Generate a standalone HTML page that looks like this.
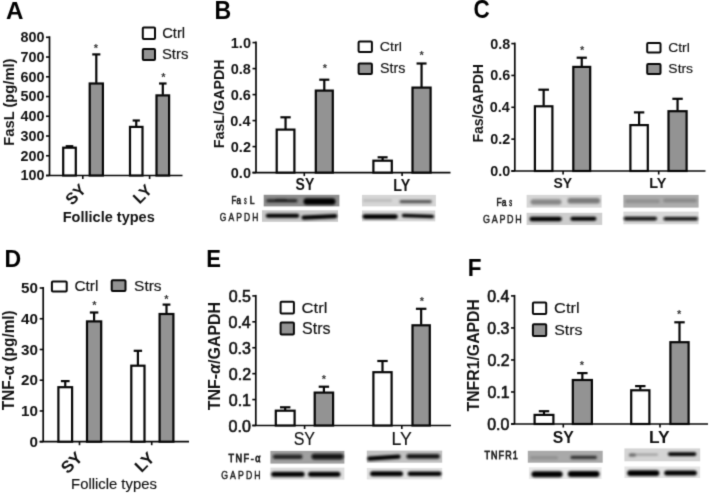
<!DOCTYPE html><html><head><meta charset="utf-8"><style>html,body{margin:0;padding:0;background:#fff;}svg{display:block;}text{font-family:'Liberation Sans', sans-serif;}</style></head><body>
<svg width="711" height="495" viewBox="0 0 711 495">
<defs><filter id="bl1" x="-5%" y="-20%" width="110%" height="140%"><feGaussianBlur stdDeviation="0.5"/></filter><filter id="bl2" x="-20%" y="-100%" width="140%" height="300%"><feGaussianBlur stdDeviation="1.1"/></filter><filter id="glob" x="0" y="0" width="711" height="495" filterUnits="userSpaceOnUse" color-interpolation-filters="sRGB"><feConvolveMatrix order="3" kernelMatrix="0.019 0.1 0.019 0.1 0.524 0.1 0.019 0.1 0.019" divisor="1" edgeMode="duplicate"/></filter><filter id="bl3" x="-20%" y="-100%" width="140%" height="300%"><feGaussianBlur stdDeviation="0.8"/></filter></defs>
<g filter="url(#glob)">
<rect width="711" height="495" fill="#fff"/>
<text x="5.90" y="18.50" font-size="24.78" font-weight="bold" fill="#000" textLength="17.46" lengthAdjust="spacingAndGlyphs">A</text>
<line x1="49.5" y1="36.3" x2="49.5" y2="175.5" stroke="#060606" stroke-width="1.7"/>
<line x1="46.0" y1="175.5" x2="182.5" y2="175.5" stroke="#060606" stroke-width="1.7"/>
<line x1="46.0" y1="175.50" x2="49.5" y2="175.50" stroke="#060606" stroke-width="1.6"/>
<text x="44.43" y="180.46" font-size="14.37" font-weight="bold" text-anchor="end" fill="#111">100</text>
<line x1="46.0" y1="155.76" x2="49.5" y2="155.76" stroke="#060606" stroke-width="1.6"/>
<text x="44.43" y="160.71" font-size="14.37" font-weight="bold" text-anchor="end" fill="#111">200</text>
<line x1="46.0" y1="136.01" x2="49.5" y2="136.01" stroke="#060606" stroke-width="1.6"/>
<text x="44.43" y="140.97" font-size="14.37" font-weight="bold" text-anchor="end" fill="#111">300</text>
<line x1="46.0" y1="116.27" x2="49.5" y2="116.27" stroke="#060606" stroke-width="1.6"/>
<text x="44.43" y="121.23" font-size="14.37" font-weight="bold" text-anchor="end" fill="#111">400</text>
<line x1="46.0" y1="96.53" x2="49.5" y2="96.53" stroke="#060606" stroke-width="1.6"/>
<text x="44.43" y="101.48" font-size="14.37" font-weight="bold" text-anchor="end" fill="#111">500</text>
<line x1="46.0" y1="76.79" x2="49.5" y2="76.79" stroke="#060606" stroke-width="1.6"/>
<text x="44.43" y="81.74" font-size="14.37" font-weight="bold" text-anchor="end" fill="#111">600</text>
<line x1="46.0" y1="57.04" x2="49.5" y2="57.04" stroke="#060606" stroke-width="1.6"/>
<text x="44.43" y="62.00" font-size="14.37" font-weight="bold" text-anchor="end" fill="#111">700</text>
<line x1="46.0" y1="37.30" x2="49.5" y2="37.30" stroke="#060606" stroke-width="1.6"/>
<text x="44.43" y="42.26" font-size="14.37" font-weight="bold" text-anchor="end" fill="#111">800</text>
<line x1="82.8" y1="175.5" x2="82.8" y2="179.0" stroke="#060606" stroke-width="1.6"/>
<line x1="149.6" y1="175.5" x2="149.6" y2="179.0" stroke="#060606" stroke-width="1.6"/>
<rect x="63.20" y="147.70" width="12.60" height="27.80" fill="#fff" stroke="#060606" stroke-width="2.2"/>
<line x1="69.50" y1="147.10" x2="69.50" y2="146.20" stroke="#060606" stroke-width="2.2"/>
<line x1="65.70" y1="146.20" x2="73.30" y2="146.20" stroke="#060606" stroke-width="2.2"/>
<rect x="89.70" y="83.50" width="13.20" height="92.00" fill="#939393" stroke="#060606" stroke-width="2.2"/>
<line x1="96.30" y1="82.90" x2="96.30" y2="54.40" stroke="#060606" stroke-width="2.2"/>
<line x1="92.25" y1="54.40" x2="100.35" y2="54.40" stroke="#060606" stroke-width="2.2"/>
<rect x="130.00" y="126.90" width="12.50" height="48.60" fill="#fff" stroke="#060606" stroke-width="2.2"/>
<line x1="136.25" y1="126.30" x2="136.25" y2="120.50" stroke="#060606" stroke-width="2.2"/>
<line x1="132.65" y1="120.50" x2="139.85" y2="120.50" stroke="#060606" stroke-width="2.2"/>
<rect x="156.50" y="95.40" width="12.60" height="80.10" fill="#939393" stroke="#060606" stroke-width="2.2"/>
<line x1="162.80" y1="94.80" x2="162.80" y2="83.50" stroke="#060606" stroke-width="2.2"/>
<line x1="159.05" y1="83.50" x2="166.55" y2="83.50" stroke="#060606" stroke-width="2.2"/>
<text x="96.00" y="52.45" font-size="11" font-weight="bold" text-anchor="middle" fill="#333">*</text>
<text x="163.30" y="81.06" font-size="11" font-weight="bold" text-anchor="middle" fill="#333">*</text>
<rect x="142.80" y="27.40" width="12.20" height="11.50" rx="1" fill="#fff" stroke="#060606" stroke-width="2"/>
<text x="162.16" y="37.56" font-size="13.88" font-weight="normal" fill="#111" stroke="#111" stroke-width="0.15" textLength="22.90" lengthAdjust="spacingAndGlyphs">Ctrl</text>
<rect x="142.80" y="49.00" width="12.20" height="11.10" rx="1" fill="#939393" stroke="#060606" stroke-width="2"/>
<text x="161.93" y="59.25" font-size="14.51" font-weight="normal" fill="#111" stroke="#111" stroke-width="0.15" textLength="26.46" lengthAdjust="spacingAndGlyphs">Strs</text>
<text x="0" y="0" font-size="16.20" font-weight="bold" fill="#111" text-anchor="middle" transform="translate(75.60 194.30) rotate(-45) translate(0 5.67)">SY</text>
<text x="0" y="0" font-size="16.20" font-weight="bold" fill="#111" text-anchor="middle" transform="translate(142.30 194.00) rotate(-45) translate(0 5.67)">LY</text>
<text x="62.76" y="221.94" font-size="14.12" font-weight="bold" fill="#111" textLength="92.03" lengthAdjust="spacingAndGlyphs">Follicle types</text>
<text x="0" y="0" font-size="14.49" font-weight="bold" fill="#111" textLength="87.14" lengthAdjust="spacingAndGlyphs" transform="translate(13.70 145.66) rotate(-90)">FasL (pg/ml)</text>
<text x="214.50" y="18.50" font-size="25.07" font-weight="bold" fill="#000" textLength="16.69" lengthAdjust="spacingAndGlyphs">B</text>
<line x1="256.0" y1="41.6" x2="256.0" y2="172.6" stroke="#060606" stroke-width="1.7"/>
<line x1="252.5" y1="172.6" x2="450.5" y2="172.6" stroke="#060606" stroke-width="1.7"/>
<line x1="252.5" y1="172.60" x2="256.0" y2="172.60" stroke="#060606" stroke-width="1.6"/>
<text x="250.98" y="177.60" font-size="14.51" font-weight="bold" text-anchor="end" fill="#111">0.0</text>
<line x1="252.5" y1="146.60" x2="256.0" y2="146.60" stroke="#060606" stroke-width="1.6"/>
<text x="250.98" y="151.60" font-size="14.51" font-weight="bold" text-anchor="end" fill="#111">0.2</text>
<line x1="252.5" y1="120.60" x2="256.0" y2="120.60" stroke="#060606" stroke-width="1.6"/>
<text x="250.47" y="125.60" font-size="14.51" font-weight="bold" text-anchor="end" fill="#111">0.4</text>
<line x1="252.5" y1="94.60" x2="256.0" y2="94.60" stroke="#060606" stroke-width="1.6"/>
<text x="250.91" y="99.60" font-size="14.51" font-weight="bold" text-anchor="end" fill="#111">0.6</text>
<line x1="252.5" y1="68.60" x2="256.0" y2="68.60" stroke="#060606" stroke-width="1.6"/>
<text x="250.84" y="73.60" font-size="14.51" font-weight="bold" text-anchor="end" fill="#111">0.8</text>
<line x1="252.5" y1="42.60" x2="256.0" y2="42.60" stroke="#060606" stroke-width="1.6"/>
<text x="250.98" y="47.60" font-size="14.51" font-weight="bold" text-anchor="end" fill="#111">1.0</text>
<line x1="304.3" y1="172.6" x2="304.3" y2="176.1" stroke="#060606" stroke-width="1.6"/>
<line x1="402.1" y1="172.6" x2="402.1" y2="176.1" stroke="#060606" stroke-width="1.6"/>
<rect x="276.70" y="129.60" width="17.70" height="43.00" fill="#fff" stroke="#060606" stroke-width="2.2"/>
<line x1="285.55" y1="129.00" x2="285.55" y2="117.30" stroke="#060606" stroke-width="2.2"/>
<line x1="280.40" y1="117.30" x2="290.70" y2="117.30" stroke="#060606" stroke-width="2.2"/>
<rect x="315.80" y="90.60" width="17.00" height="82.00" fill="#939393" stroke="#060606" stroke-width="2.2"/>
<line x1="324.30" y1="90.00" x2="324.30" y2="79.70" stroke="#060606" stroke-width="2.2"/>
<line x1="319.25" y1="79.70" x2="329.35" y2="79.70" stroke="#060606" stroke-width="2.2"/>
<rect x="373.40" y="160.70" width="18.40" height="11.90" fill="#fff" stroke="#060606" stroke-width="2.2"/>
<line x1="382.60" y1="160.10" x2="382.60" y2="157.30" stroke="#060606" stroke-width="2.2"/>
<line x1="377.60" y1="157.30" x2="387.60" y2="157.30" stroke="#060606" stroke-width="2.2"/>
<rect x="412.50" y="87.60" width="18.10" height="85.00" fill="#939393" stroke="#060606" stroke-width="2.2"/>
<line x1="421.55" y1="87.00" x2="421.55" y2="63.50" stroke="#060606" stroke-width="2.2"/>
<line x1="416.55" y1="63.50" x2="426.55" y2="63.50" stroke="#060606" stroke-width="2.2"/>
<text x="324.80" y="72.35" font-size="11" font-weight="bold" text-anchor="middle" fill="#333">*</text>
<text x="421.60" y="58.85" font-size="11" font-weight="bold" text-anchor="middle" fill="#333">*</text>
<rect x="358.60" y="41.60" width="13.30" height="10.30" rx="1" fill="#fff" stroke="#060606" stroke-width="2"/>
<text x="379.69" y="51.27" font-size="13.20" font-weight="normal" fill="#111" stroke="#111" stroke-width="0.15" textLength="22.14" lengthAdjust="spacingAndGlyphs">Ctrl</text>
<rect x="358.60" y="63.40" width="13.30" height="10.50" rx="1" fill="#939393" stroke="#060606" stroke-width="2"/>
<text x="380.06" y="72.96" font-size="13.80" font-weight="normal" fill="#111" stroke="#111" stroke-width="0.15" textLength="25.31" lengthAdjust="spacingAndGlyphs">Strs</text>
<text x="295.58" y="190.34" font-size="15.77" font-weight="bold" fill="#111" textLength="18.69" lengthAdjust="spacingAndGlyphs">SY</text>
<text x="393.27" y="190.50" font-size="15.94" font-weight="bold" fill="#111" textLength="16.96" lengthAdjust="spacingAndGlyphs">LY</text>
<text x="0" y="0" font-size="14.64" font-weight="bold" fill="#111" textLength="88.80" lengthAdjust="spacingAndGlyphs" transform="translate(224.20 148.23) rotate(-90)">FasL/GAPDH</text>
<text x="473.40" y="18.45" font-size="25.07" font-weight="bold" fill="#000" textLength="16.21" lengthAdjust="spacingAndGlyphs">C</text>
<line x1="514.8" y1="42.6" x2="514.8" y2="171.0" stroke="#060606" stroke-width="1.7"/>
<line x1="511.29999999999995" y1="171.0" x2="705.5" y2="171.0" stroke="#060606" stroke-width="1.7"/>
<line x1="511.29999999999995" y1="171.00" x2="514.8" y2="171.00" stroke="#060606" stroke-width="1.6"/>
<text x="510.28" y="175.96" font-size="14.37" font-weight="bold" text-anchor="end" fill="#111">0.0</text>
<line x1="511.29999999999995" y1="139.15" x2="514.8" y2="139.15" stroke="#060606" stroke-width="1.6"/>
<text x="510.28" y="144.11" font-size="14.37" font-weight="bold" text-anchor="end" fill="#111">0.2</text>
<line x1="511.29999999999995" y1="107.30" x2="514.8" y2="107.30" stroke="#060606" stroke-width="1.6"/>
<text x="509.77" y="112.26" font-size="14.37" font-weight="bold" text-anchor="end" fill="#111">0.4</text>
<line x1="511.29999999999995" y1="75.45" x2="514.8" y2="75.45" stroke="#060606" stroke-width="1.6"/>
<text x="510.21" y="80.41" font-size="14.37" font-weight="bold" text-anchor="end" fill="#111">0.6</text>
<line x1="511.29999999999995" y1="43.60" x2="514.8" y2="43.60" stroke="#060606" stroke-width="1.6"/>
<text x="510.13" y="48.56" font-size="14.37" font-weight="bold" text-anchor="end" fill="#111">0.8</text>
<line x1="563.1" y1="171.0" x2="563.1" y2="174.5" stroke="#060606" stroke-width="1.6"/>
<line x1="658.7" y1="171.0" x2="658.7" y2="174.5" stroke="#060606" stroke-width="1.6"/>
<rect x="534.90" y="106.30" width="17.50" height="64.70" fill="#fff" stroke="#060606" stroke-width="2.2"/>
<line x1="543.65" y1="105.70" x2="543.65" y2="89.70" stroke="#060606" stroke-width="2.2"/>
<line x1="538.35" y1="89.70" x2="548.95" y2="89.70" stroke="#060606" stroke-width="2.2"/>
<rect x="573.30" y="66.90" width="16.90" height="104.10" fill="#939393" stroke="#060606" stroke-width="2.2"/>
<line x1="581.75" y1="66.30" x2="581.75" y2="57.70" stroke="#060606" stroke-width="2.2"/>
<line x1="576.65" y1="57.70" x2="586.85" y2="57.70" stroke="#060606" stroke-width="2.2"/>
<rect x="630.40" y="125.10" width="17.40" height="45.90" fill="#fff" stroke="#060606" stroke-width="2.2"/>
<line x1="639.10" y1="124.50" x2="639.10" y2="112.40" stroke="#060606" stroke-width="2.2"/>
<line x1="633.90" y1="112.40" x2="644.30" y2="112.40" stroke="#060606" stroke-width="2.2"/>
<rect x="668.50" y="111.20" width="18.10" height="59.80" fill="#939393" stroke="#060606" stroke-width="2.2"/>
<line x1="677.55" y1="110.60" x2="677.55" y2="98.80" stroke="#060606" stroke-width="2.2"/>
<line x1="672.35" y1="98.80" x2="682.75" y2="98.80" stroke="#060606" stroke-width="2.2"/>
<text x="582.20" y="54.35" font-size="11" font-weight="bold" text-anchor="middle" fill="#333">*</text>
<rect x="647.20" y="43.00" width="13.30" height="9.60" rx="1" fill="#fff" stroke="#060606" stroke-width="2"/>
<text x="668.21" y="52.07" font-size="12.65" font-weight="normal" fill="#111" stroke="#111" stroke-width="0.15" textLength="21.60" lengthAdjust="spacingAndGlyphs">Ctrl</text>
<rect x="647.20" y="63.90" width="13.30" height="10.00" rx="1" fill="#939393" stroke="#060606" stroke-width="2"/>
<text x="668.38" y="72.87" font-size="12.96" font-weight="normal" fill="#111" stroke="#111" stroke-width="0.15" textLength="24.68" lengthAdjust="spacingAndGlyphs">Strs</text>
<text x="553.38" y="187.86" font-size="14.37" font-weight="bold" fill="#111" textLength="18.69" lengthAdjust="spacingAndGlyphs">SY</text>
<text x="649.26" y="188.00" font-size="14.78" font-weight="bold" fill="#111" textLength="17.17" lengthAdjust="spacingAndGlyphs">LY</text>
<text x="0" y="0" font-size="14.64" font-weight="bold" fill="#111" textLength="78.55" lengthAdjust="spacingAndGlyphs" transform="translate(482.60 142.61) rotate(-90)">Fas/GAPDH</text>
<text x="4.50" y="266.90" font-size="24.35" font-weight="bold" fill="#000" textLength="16.67" lengthAdjust="spacingAndGlyphs">D</text>
<line x1="43.2" y1="287.0" x2="43.2" y2="441.7" stroke="#060606" stroke-width="1.7"/>
<line x1="39.7" y1="441.7" x2="189.0" y2="441.7" stroke="#060606" stroke-width="1.7"/>
<line x1="39.7" y1="441.70" x2="43.2" y2="441.70" stroke="#060606" stroke-width="1.6"/>
<text x="38.03" y="446.95" font-size="15.21" font-weight="bold" text-anchor="end" fill="#111">0</text>
<line x1="39.7" y1="410.96" x2="43.2" y2="410.96" stroke="#060606" stroke-width="1.6"/>
<text x="38.04" y="416.21" font-size="15.21" font-weight="bold" text-anchor="end" fill="#111">10</text>
<line x1="39.7" y1="380.22" x2="43.2" y2="380.22" stroke="#060606" stroke-width="1.6"/>
<text x="38.04" y="385.47" font-size="15.21" font-weight="bold" text-anchor="end" fill="#111">20</text>
<line x1="39.7" y1="349.48" x2="43.2" y2="349.48" stroke="#060606" stroke-width="1.6"/>
<text x="38.04" y="354.73" font-size="15.21" font-weight="bold" text-anchor="end" fill="#111">30</text>
<line x1="39.7" y1="318.74" x2="43.2" y2="318.74" stroke="#060606" stroke-width="1.6"/>
<text x="38.04" y="323.99" font-size="15.21" font-weight="bold" text-anchor="end" fill="#111">40</text>
<line x1="39.7" y1="288.00" x2="43.2" y2="288.00" stroke="#060606" stroke-width="1.6"/>
<text x="38.04" y="293.25" font-size="15.21" font-weight="bold" text-anchor="end" fill="#111">50</text>
<line x1="79.5" y1="441.7" x2="79.5" y2="445.2" stroke="#060606" stroke-width="1.6"/>
<line x1="151.7" y1="441.7" x2="151.7" y2="445.2" stroke="#060606" stroke-width="1.6"/>
<rect x="58.40" y="387.20" width="13.70" height="54.50" fill="#fff" stroke="#060606" stroke-width="2.2"/>
<line x1="65.25" y1="386.60" x2="65.25" y2="381.10" stroke="#060606" stroke-width="2.2"/>
<line x1="60.90" y1="381.10" x2="69.60" y2="381.10" stroke="#060606" stroke-width="2.2"/>
<rect x="87.00" y="321.40" width="14.20" height="120.30" fill="#939393" stroke="#060606" stroke-width="2.2"/>
<line x1="94.10" y1="320.80" x2="94.10" y2="312.50" stroke="#060606" stroke-width="2.2"/>
<line x1="89.85" y1="312.50" x2="98.35" y2="312.50" stroke="#060606" stroke-width="2.2"/>
<rect x="131.30" y="365.70" width="13.20" height="76.00" fill="#fff" stroke="#060606" stroke-width="2.2"/>
<line x1="137.90" y1="365.10" x2="137.90" y2="350.80" stroke="#060606" stroke-width="2.2"/>
<line x1="133.70" y1="350.80" x2="142.10" y2="350.80" stroke="#060606" stroke-width="2.2"/>
<rect x="159.60" y="314.00" width="13.80" height="127.70" fill="#939393" stroke="#060606" stroke-width="2.2"/>
<line x1="166.50" y1="313.40" x2="166.50" y2="304.60" stroke="#060606" stroke-width="2.2"/>
<line x1="162.60" y1="304.60" x2="170.40" y2="304.60" stroke="#060606" stroke-width="2.2"/>
<text x="94.30" y="308.56" font-size="11" font-weight="bold" text-anchor="middle" fill="#333">*</text>
<text x="166.40" y="303.36" font-size="11" font-weight="bold" text-anchor="middle" fill="#333">*</text>
<rect x="51.90" y="281.60" width="14.80" height="9.80" rx="1" fill="#fff" stroke="#060606" stroke-width="2"/>
<text x="74.43" y="291.06" font-size="13.88" font-weight="normal" fill="#111" stroke="#111" stroke-width="0.15" textLength="23.87" lengthAdjust="spacingAndGlyphs">Ctrl</text>
<rect x="111.70" y="280.30" width="13.80" height="10.70" rx="1" fill="#939393" stroke="#060606" stroke-width="2"/>
<text x="134.10" y="290.56" font-size="14.23" font-weight="normal" fill="#111" stroke="#111" stroke-width="0.15" textLength="27.51" lengthAdjust="spacingAndGlyphs">Strs</text>
<text x="0" y="0" font-size="16.80" font-weight="bold" fill="#111" text-anchor="middle" transform="translate(71.50 462.50) rotate(-45) translate(0 5.88)">SY</text>
<text x="0" y="0" font-size="16.80" font-weight="bold" fill="#111" text-anchor="middle" transform="translate(144.50 462.00) rotate(-45) translate(0 5.88)">LY</text>
<text x="71.11" y="489.16" font-size="14.01" font-weight="normal" fill="#111" stroke="#111" stroke-width="0.15" textLength="85.70" lengthAdjust="spacingAndGlyphs">Follicle types</text>
<text x="0" y="0" font-size="16.23" font-weight="bold" fill="#111" textLength="99.98" lengthAdjust="spacingAndGlyphs" transform="translate(13.70 410.25) rotate(-90)">TNF-α (pg/ml)</text>
<text x="206.16" y="266.90" font-size="24.35" font-weight="bold" fill="#000" textLength="14.76" lengthAdjust="spacingAndGlyphs">E</text>
<line x1="255.8" y1="294.9" x2="255.8" y2="425.5" stroke="#060606" stroke-width="1.7"/>
<line x1="252.3" y1="425.5" x2="450.9" y2="425.5" stroke="#060606" stroke-width="1.7"/>
<line x1="252.3" y1="425.50" x2="255.8" y2="425.50" stroke="#060606" stroke-width="1.6"/>
<text x="250.86" y="431.94" font-size="16.06" font-weight="normal" text-anchor="end" fill="#111" stroke="#111" stroke-width="0.6">0.0</text>
<line x1="252.3" y1="399.58" x2="255.8" y2="399.58" stroke="#060606" stroke-width="1.6"/>
<text x="251.03" y="406.02" font-size="16.06" font-weight="normal" text-anchor="end" fill="#111" stroke="#111" stroke-width="0.6">0.1</text>
<line x1="252.3" y1="373.66" x2="255.8" y2="373.66" stroke="#060606" stroke-width="1.6"/>
<text x="251.11" y="380.10" font-size="16.06" font-weight="normal" text-anchor="end" fill="#111" stroke="#111" stroke-width="0.6">0.2</text>
<line x1="252.3" y1="347.74" x2="255.8" y2="347.74" stroke="#060606" stroke-width="1.6"/>
<text x="250.94" y="354.18" font-size="16.06" font-weight="normal" text-anchor="end" fill="#111" stroke="#111" stroke-width="0.6">0.3</text>
<line x1="252.3" y1="321.82" x2="255.8" y2="321.82" stroke="#060606" stroke-width="1.6"/>
<text x="250.78" y="328.26" font-size="16.06" font-weight="normal" text-anchor="end" fill="#111" stroke="#111" stroke-width="0.6">0.4</text>
<line x1="252.3" y1="295.90" x2="255.8" y2="295.90" stroke="#060606" stroke-width="1.6"/>
<text x="250.94" y="302.34" font-size="16.06" font-weight="normal" text-anchor="end" fill="#111" stroke="#111" stroke-width="0.6">0.5</text>
<line x1="304.6" y1="425.5" x2="304.6" y2="429.0" stroke="#060606" stroke-width="1.6"/>
<line x1="401.8" y1="425.5" x2="401.8" y2="429.0" stroke="#060606" stroke-width="1.6"/>
<rect x="275.80" y="410.70" width="18.80" height="14.80" fill="#fff" stroke="#060606" stroke-width="2.2"/>
<line x1="285.20" y1="410.10" x2="285.20" y2="407.30" stroke="#060606" stroke-width="2.2"/>
<line x1="280.00" y1="407.30" x2="290.40" y2="407.30" stroke="#060606" stroke-width="2.2"/>
<rect x="314.70" y="392.60" width="18.40" height="32.90" fill="#939393" stroke="#060606" stroke-width="2.2"/>
<line x1="323.90" y1="392.00" x2="323.90" y2="386.70" stroke="#060606" stroke-width="2.2"/>
<line x1="318.70" y1="386.70" x2="329.10" y2="386.70" stroke="#060606" stroke-width="2.2"/>
<rect x="373.40" y="372.20" width="18.20" height="53.30" fill="#fff" stroke="#060606" stroke-width="2.2"/>
<line x1="382.50" y1="371.60" x2="382.50" y2="361.00" stroke="#060606" stroke-width="2.2"/>
<line x1="377.30" y1="361.00" x2="387.70" y2="361.00" stroke="#060606" stroke-width="2.2"/>
<rect x="412.50" y="325.30" width="17.30" height="100.20" fill="#939393" stroke="#060606" stroke-width="2.2"/>
<line x1="421.15" y1="324.70" x2="421.15" y2="308.80" stroke="#060606" stroke-width="2.2"/>
<line x1="415.90" y1="308.80" x2="426.40" y2="308.80" stroke="#060606" stroke-width="2.2"/>
<text x="323.90" y="383.45" font-size="11" font-weight="bold" text-anchor="middle" fill="#333">*</text>
<text x="421.80" y="304.66" font-size="11" font-weight="bold" text-anchor="middle" fill="#333">*</text>
<rect x="280.60" y="301.80" width="13.30" height="11.80" rx="1" fill="#fff" stroke="#060606" stroke-width="2"/>
<text x="301.57" y="312.95" font-size="15.10" font-weight="normal" fill="#111" stroke="#111" stroke-width="0.15" textLength="25.81" lengthAdjust="spacingAndGlyphs">Ctrl</text>
<rect x="280.60" y="322.50" width="13.30" height="11.90" rx="1" fill="#939393" stroke="#060606" stroke-width="2"/>
<text x="301.98" y="333.84" font-size="15.63" font-weight="normal" fill="#111" stroke="#111" stroke-width="0.15" textLength="28.55" lengthAdjust="spacingAndGlyphs">Strs</text>
<text x="293.68" y="445.22" font-size="18.03" font-weight="normal" fill="#111" stroke="#111" stroke-width="0.15" textLength="21.41" lengthAdjust="spacingAndGlyphs">SY</text>
<text x="391.38" y="445.20" font-size="17.68" font-weight="normal" fill="#111" stroke="#111" stroke-width="0.15" textLength="20.34" lengthAdjust="spacingAndGlyphs">LY</text>
<text x="0" y="0" font-size="16.52" font-weight="bold" fill="#111" textLength="108.41" lengthAdjust="spacingAndGlyphs" transform="translate(219.90 410.26) rotate(-90)">TNF-<tspan font-style="italic">α</tspan>/GAPDH</text>
<text x="467.63" y="275.60" font-size="24.20" font-weight="bold" fill="#000" textLength="13.77" lengthAdjust="spacingAndGlyphs">F</text>
<line x1="514.5" y1="294.9" x2="514.5" y2="424.0" stroke="#060606" stroke-width="1.7"/>
<line x1="511.0" y1="424.0" x2="708" y2="424.0" stroke="#060606" stroke-width="1.7"/>
<line x1="511.0" y1="424.00" x2="514.5" y2="424.00" stroke="#060606" stroke-width="1.6"/>
<text x="509.36" y="430.39" font-size="15.92" font-weight="normal" text-anchor="end" fill="#111" stroke="#111" stroke-width="0.6">0.0</text>
<line x1="511.0" y1="391.98" x2="514.5" y2="391.98" stroke="#060606" stroke-width="1.6"/>
<text x="509.52" y="398.37" font-size="15.92" font-weight="normal" text-anchor="end" fill="#111" stroke="#111" stroke-width="0.6">0.1</text>
<line x1="511.0" y1="359.95" x2="514.5" y2="359.95" stroke="#060606" stroke-width="1.6"/>
<text x="509.60" y="366.34" font-size="15.92" font-weight="normal" text-anchor="end" fill="#111" stroke="#111" stroke-width="0.6">0.2</text>
<line x1="511.0" y1="327.92" x2="514.5" y2="327.92" stroke="#060606" stroke-width="1.6"/>
<text x="509.44" y="334.32" font-size="15.92" font-weight="normal" text-anchor="end" fill="#111" stroke="#111" stroke-width="0.6">0.3</text>
<line x1="511.0" y1="295.90" x2="514.5" y2="295.90" stroke="#060606" stroke-width="1.6"/>
<text x="509.28" y="302.29" font-size="15.92" font-weight="normal" text-anchor="end" fill="#111" stroke="#111" stroke-width="0.6">0.4</text>
<line x1="563.3" y1="424.0" x2="563.3" y2="427.5" stroke="#060606" stroke-width="1.6"/>
<line x1="660.0" y1="424.0" x2="660.0" y2="427.5" stroke="#060606" stroke-width="1.6"/>
<rect x="534.60" y="414.90" width="18.80" height="9.10" fill="#fff" stroke="#060606" stroke-width="2.2"/>
<line x1="544.00" y1="414.30" x2="544.00" y2="411.20" stroke="#060606" stroke-width="2.2"/>
<line x1="538.80" y1="411.20" x2="549.20" y2="411.20" stroke="#060606" stroke-width="2.2"/>
<rect x="572.80" y="380.00" width="19.10" height="44.00" fill="#939393" stroke="#060606" stroke-width="2.2"/>
<line x1="582.35" y1="379.40" x2="582.35" y2="373.10" stroke="#060606" stroke-width="2.2"/>
<line x1="577.15" y1="373.10" x2="587.55" y2="373.10" stroke="#060606" stroke-width="2.2"/>
<rect x="631.20" y="390.30" width="18.20" height="33.70" fill="#fff" stroke="#060606" stroke-width="2.2"/>
<line x1="640.30" y1="389.70" x2="640.30" y2="386.10" stroke="#060606" stroke-width="2.2"/>
<line x1="635.10" y1="386.10" x2="645.50" y2="386.10" stroke="#060606" stroke-width="2.2"/>
<rect x="670.40" y="342.20" width="18.20" height="81.80" fill="#939393" stroke="#060606" stroke-width="2.2"/>
<line x1="679.50" y1="341.60" x2="679.50" y2="322.30" stroke="#060606" stroke-width="2.2"/>
<line x1="674.30" y1="322.30" x2="684.70" y2="322.30" stroke="#060606" stroke-width="2.2"/>
<text x="582.00" y="368.95" font-size="11" font-weight="bold" text-anchor="middle" fill="#333">*</text>
<text x="679.10" y="318.16" font-size="11" font-weight="bold" text-anchor="middle" fill="#333">*</text>
<rect x="532.90" y="302.40" width="13.30" height="11.50" rx="1" fill="#fff" stroke="#060606" stroke-width="2"/>
<text x="554.08" y="313.25" font-size="14.97" font-weight="normal" fill="#111" stroke="#111" stroke-width="0.15" textLength="25.49" lengthAdjust="spacingAndGlyphs">Ctrl</text>
<rect x="532.90" y="324.30" width="13.30" height="11.80" rx="1" fill="#939393" stroke="#060606" stroke-width="2"/>
<text x="554.29" y="335.25" font-size="15.21" font-weight="normal" fill="#111" stroke="#111" stroke-width="0.15" textLength="28.24" lengthAdjust="spacingAndGlyphs">Strs</text>
<text x="552.63" y="442.73" font-size="16.62" font-weight="bold" fill="#111" textLength="21.08" lengthAdjust="spacingAndGlyphs">SY</text>
<text x="649.07" y="442.90" font-size="17.10" font-weight="bold" fill="#111" textLength="20.61" lengthAdjust="spacingAndGlyphs">LY</text>
<text x="0" y="0" font-size="16.09" font-weight="bold" fill="#111" textLength="112.41" lengthAdjust="spacingAndGlyphs" transform="translate(478.90 411.46) rotate(-90)">TNFR1/GAPDH</text>
<text x="0" y="0" font-size="10.43" font-weight="normal" fill="#1a1a1a" stroke="#1a1a1a" stroke-width="0.7" transform="translate(231.56 203.60) scale(0.77 1)">Fa</text>
<text x="0" y="0" font-size="10.43" font-weight="normal" fill="#1a1a1a" stroke="#1a1a1a" stroke-width="0.7" transform="translate(244.26 203.60) scale(0.44 1)">s</text>
<text x="0" y="0" font-size="10.43" font-weight="normal" fill="#1a1a1a" stroke="#1a1a1a" stroke-width="0.7" transform="translate(249.72 203.60) scale(0.82 1)">L</text>
<text x="0" y="0" font-size="10.00" font-weight="normal" fill="#222" stroke="#222" stroke-width="0.45" textLength="45.43" lengthAdjust="spacing" transform="translate(219.87 220.50) scale(0.85 1)">GAPDH</text>
<rect x="263.70" y="194.80" width="75.70" height="11.60" fill="#8e8e8e" filter="url(#bl1)"/>
<g filter="url(#bl3)">
<rect x="266.30" y="199.10" width="31.20" height="3.40" rx="1.70" fill="#202020" opacity="0.9"/>
<rect x="275.00" y="198.80" width="12.00" height="2.40" rx="1.20" fill="#151515" opacity="0.7"/>
<rect x="303.50" y="198.30" width="32.00" height="6.40" rx="3.20" fill="#000" opacity="1"/>
</g>
<rect x="262.00" y="210.30" width="76.00" height="11.50" fill="#c8c8c8" filter="url(#bl1)"/>
<g filter="url(#bl3)">
<rect x="265.80" y="213.80" width="33.40" height="4.00" rx="2.00" fill="#050505" opacity="1"/>
<path d="M303.60 215.45 L335.20 213.95 A2.1 2.1 0 0 1 335.20 218.15 L303.60 219.65 A2.1 2.1 0 0 1 303.60 215.45 Z" fill="#050505" opacity="1"/>
</g>
<rect x="362.00" y="194.90" width="73.90" height="11.50" fill="#d6d6d6" filter="url(#bl1)"/>
<g filter="url(#bl3)">
<rect x="363.00" y="199.35" width="29.00" height="2.50" rx="1.25" fill="#b0b0b0" opacity="0.8"/>
<rect x="399.50" y="200.00" width="32.30" height="3.20" rx="1.60" fill="#404040" opacity="0.85"/>
</g>
<rect x="362.00" y="210.50" width="73.30" height="10.90" fill="#d6d6d6" filter="url(#bl1)"/>
<g filter="url(#bl3)">
<rect x="362.50" y="214.20" width="35.30" height="4.80" rx="2.40" fill="#000" opacity="1"/>
<path d="M403.60 213.70 L432.30 214.70 A1.8 1.8 0 0 1 432.30 218.30 L403.60 217.30 A1.8 1.8 0 0 1 403.60 213.70 Z" fill="#050505" opacity="1"/>
</g>
<text x="0" y="0" font-size="11.30" font-weight="normal" fill="#1a1a1a" stroke="#1a1a1a" stroke-width="0.7" transform="translate(496.62 206.40) scale(0.75 1)">Fa</text>
<text x="0" y="0" font-size="11.30" font-weight="normal" fill="#1a1a1a" stroke="#1a1a1a" stroke-width="0.7" transform="translate(509.23 206.40) scale(0.49 1)">s</text>
<text x="0" y="0" font-size="10.56" font-weight="normal" fill="#222" stroke="#222" stroke-width="0.45" textLength="45.74" lengthAdjust="spacing" transform="translate(482.95 223.19) scale(0.85 1)">GAPDH</text>
<rect x="526.60" y="194.90" width="75.00" height="12.70" fill="#d6d6d6" filter="url(#bl1)"/>
<g filter="url(#bl3)">
<rect x="530.50" y="199.20" width="31.00" height="5.60" rx="2.80" fill="#7a7a7a" opacity="0.85"/>
<rect x="567.50" y="198.00" width="32.50" height="5.60" rx="2.80" fill="#6a6a6a" opacity="0.85"/>
</g>
<rect x="526.60" y="212.80" width="75.60" height="12.10" fill="#cdcdcd" filter="url(#bl1)"/>
<g filter="url(#bl3)">
<rect x="529.50" y="216.70" width="32.30" height="4.60" rx="2.30" fill="#000" opacity="1"/>
<rect x="570.40" y="216.80" width="26.00" height="4.00" rx="2.00" fill="#000" opacity="1"/>
</g>
<rect x="623.40" y="194.90" width="75.20" height="12.70" fill="#adadad" filter="url(#bl1)"/>
<g filter="url(#bl3)">
<rect x="625.00" y="199.20" width="35.00" height="4.00" rx="2.00" fill="#8a8a8a" opacity="0.8"/>
<rect x="663.00" y="198.60" width="34.00" height="4.00" rx="2.00" fill="#808080" opacity="0.8"/>
</g>
<rect x="623.40" y="211.60" width="75.20" height="12.70" fill="#d8d8d8" filter="url(#bl1)"/>
<g filter="url(#bl3)">
<rect x="623.60" y="216.80" width="33.40" height="3.60" rx="1.80" fill="#0a0a0a" opacity="1"/>
<rect x="663.40" y="217.10" width="34.60" height="3.40" rx="1.70" fill="#0a0a0a" opacity="1"/>
</g>
<text x="0" y="0" font-size="10.71" font-weight="normal" fill="#222" stroke="#222" stroke-width="0.8" textLength="37.83" lengthAdjust="spacing" transform="translate(228.42 462.49) scale(0.85 1)">TNF-α</text>
<text x="0" y="0" font-size="10.28" font-weight="normal" fill="#222" stroke="#222" stroke-width="0.45" textLength="46.29" lengthAdjust="spacing" transform="translate(221.26 479.20) scale(0.85 1)">GAPDH</text>
<rect x="270.40" y="450.90" width="74.00" height="12.70" fill="#a0a0a0" filter="url(#bl1)"/>
<g filter="url(#bl3)">
<rect x="272.90" y="454.60" width="29.60" height="4.40" rx="2.20" fill="#151515" opacity="0.9"/>
<rect x="311.50" y="453.80" width="32.00" height="5.60" rx="2.80" fill="#080808" opacity="0.95"/>
</g>
<rect x="270.40" y="467.60" width="74.00" height="12.10" fill="#dedede" filter="url(#bl1)"/>
<g filter="url(#bl3)">
<rect x="271.20" y="471.80" width="33.40" height="5.00" rx="2.50" fill="#000" opacity="1"/>
<rect x="308.10" y="471.80" width="32.30" height="5.00" rx="2.50" fill="#000" opacity="1"/>
</g>
<rect x="366.80" y="450.60" width="75.40" height="12.10" fill="#c2c2c2" filter="url(#bl1)"/>
<g filter="url(#bl3)">
<path d="M369.40 456.40 L398.40 454.40 A2.2 2.2 0 0 1 398.40 458.80 L369.40 460.80 A2.2 2.2 0 0 1 369.40 456.40 Z" fill="#000" opacity="1"/>
<rect x="406.40" y="454.10" width="33.50" height="4.60" rx="2.30" fill="#111" opacity="0.95"/>
</g>
<rect x="366.80" y="467.90" width="75.40" height="11.50" fill="#e2e2e2" filter="url(#bl1)"/>
<g filter="url(#bl3)">
<rect x="370.10" y="471.20" width="32.90" height="5.00" rx="2.50" fill="#000" opacity="1"/>
<rect x="407.60" y="471.40" width="34.00" height="4.60" rx="2.30" fill="#000" opacity="1"/>
</g>
<text x="0" y="0" font-size="10.87" font-weight="normal" fill="#222" stroke="#222" stroke-width="0.8" textLength="40.61" lengthAdjust="spacing" transform="translate(484.42 458.50) scale(0.82 1)">TNFR1</text>
<rect x="527.80" y="450.80" width="74.90" height="11.90" fill="#a9a9a9" filter="url(#bl1)"/>
<g filter="url(#bl3)">
<rect x="530.00" y="456.30" width="28.00" height="3.00" rx="1.50" fill="#8a8a8a" opacity="0.8"/>
<rect x="570.40" y="455.70" width="26.60" height="3.40" rx="1.70" fill="#252525" opacity="0.9"/>
</g>
<rect x="528.90" y="467.30" width="72.70" height="11.60" fill="#e8e8e8" filter="url(#bl1)"/>
<g filter="url(#bl3)">
<rect x="531.50" y="471.20" width="31.10" height="6.00" rx="3.00" fill="#000" opacity="1"/>
<rect x="567.80" y="471.10" width="31.70" height="6.00" rx="3.00" fill="#000" opacity="1"/>
</g>
<rect x="624.40" y="448.40" width="75.80" height="12.90" fill="#d4d4d4" filter="url(#bl1)"/>
<g filter="url(#bl3)">
<rect x="629.00" y="453.50" width="7.00" height="3.00" rx="1.50" fill="#333" opacity="0.8"/>
<rect x="631.00" y="453.80" width="27.00" height="1.60" rx="0.80" fill="#777" opacity="0.7"/>
<rect x="667.90" y="452.30" width="28.50" height="3.60" rx="1.80" fill="#000" opacity="1"/>
</g>
<rect x="624.40" y="466.50" width="75.80" height="11.50" fill="#e4e4e4" filter="url(#bl1)"/>
<g filter="url(#bl3)">
<rect x="627.20" y="470.20" width="32.20" height="5.80" rx="2.90" fill="#000" opacity="1"/>
<rect x="664.20" y="470.50" width="32.70" height="5.00" rx="2.50" fill="#000" opacity="1"/>
</g>
</g>
</svg></body></html>
